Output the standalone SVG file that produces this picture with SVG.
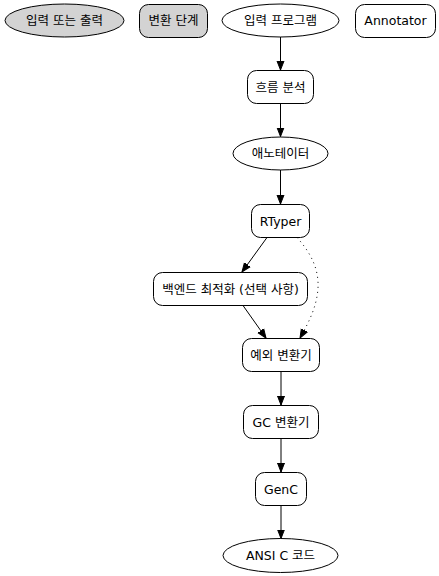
<svg xmlns="http://www.w3.org/2000/svg" width="439" height="576" viewBox="0 0 439 576">
<defs>
<marker id="ah" markerWidth="10" markerHeight="10" refX="9" refY="5" orient="auto" markerUnits="userSpaceOnUse">
<path d="M0,1.5 L9,5 L0,8.5 Z" fill="#000" stroke="#000" stroke-width="1"/>
</marker>
<style>
text{font-family:"DejaVu Sans","Noto Sans CJK KR",sans-serif;font-size:12.5px;fill:#000;text-anchor:middle;dominant-baseline:central}
.n{fill:#fff;stroke:#000;stroke-width:1}
.g{fill:#d3d3d3;stroke:#000;stroke-width:1}
.e{fill:none;stroke:#000;stroke-width:1}
.d{stroke-dasharray:1,4}
</style>
</defs>
<rect width="439" height="576" fill="#fff"/>
<g id="legend_io"><ellipse class="g" cx="64.5" cy="20.5" rx="59.5" ry="16.5"/><text x="64.5" y="20.5">입력 또는 출력</text></g>
<g id="legend_step"><rect class="g" x="139.5" y="4.5" width="68" height="33" rx="9"/><text x="173.5" y="20.5">변환 단계</text></g>
<g id="input"><ellipse class="n" cx="280.5" cy="20.5" rx="58.5" ry="16.5"/><text x="280.5" y="20.5">입력 프로그램</text></g>
<g id="annotator_legend"><rect class="n" x="355.5" y="4.5" width="80" height="33" rx="9"/><text x="395.5" y="20.5">Annotator</text></g>
<g id="flow"><rect class="n" x="247.5" y="70.5" width="66" height="33" rx="9"/><text x="280.5" y="87">흐름 분석</text></g>
<g id="annot"><ellipse class="n" cx="280.5" cy="153.5" rx="47.5" ry="16.5"/><text x="280.5" y="153.5">애노테이터</text></g>
<g id="rtyper"><rect class="n" x="251.5" y="204.5" width="58" height="33" rx="9"/><text x="280.5" y="221">RTyper</text></g>
<g id="backend"><rect class="n" x="153.5" y="272.5" width="154" height="33" rx="9"/><text x="230.5" y="289">백엔드 최적화 (선택 사항)</text></g>
<g id="exc"><rect class="n" x="242.5" y="338.5" width="77" height="33" rx="9"/><text x="281" y="355">예외 변환기</text></g>
<g id="gc"><rect class="n" x="243.5" y="405.5" width="75" height="33" rx="9"/><text x="281" y="422">GC 변환기</text></g>
<g id="genc"><rect class="n" x="255.5" y="472.5" width="51" height="33" rx="9"/><text x="281" y="489">GenC</text></g>
<g id="ansi"><ellipse class="n" cx="280.5" cy="555.5" rx="57.5" ry="17"/><text x="280.5" y="555.5">ANSI C 코드</text></g>
<g id="edges">
<path class="e" d="M280.5,37 L280.5,70" marker-end="url(#ah)"/>
<path class="e" d="M280.5,103.5 L280.5,136.5" marker-end="url(#ah)"/>
<path class="e" d="M280.5,170 L280.5,204" marker-end="url(#ah)"/>
<path class="e" d="M267,237.5 L242,272" marker-end="url(#ah)"/>
<path class="e" d="M243,305.5 L266,338" marker-end="url(#ah)"/>
<path class="e d" d="M297,237.5 C310,252 319,268 318,288 C317,306 309,322 300,338" marker-end="url(#ah)"/>
<path class="e" d="M281,371.5 L281,405" marker-end="url(#ah)"/>
<path class="e" d="M281,438.5 L281,472" marker-end="url(#ah)"/>
<path class="e" d="M281,505.5 L281,538.5" marker-end="url(#ah)"/>
</g>
</svg>
